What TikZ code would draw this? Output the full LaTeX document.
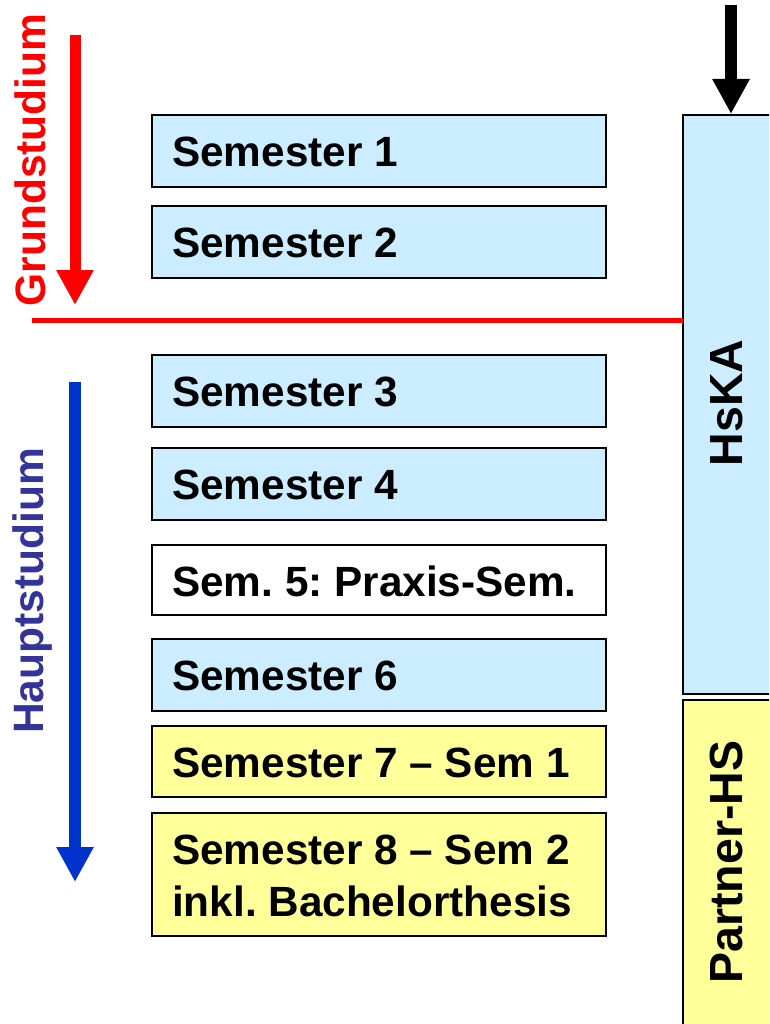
\documentclass[tikz,border=0pt]{standalone}
\usepackage{fontspec}
\setmainfont{Liberation Sans}
\usetikzlibrary{arrows.meta,positioning}
\definecolor{lblue}{HTML}{CCECFF}
\definecolor{lyellow}{HTML}{FFFF99}
\definecolor{hblue}{HTML}{333399}
\definecolor{ablue}{HTML}{0033CC}
\frenchspacing
\begin{document}
\begin{tikzpicture}[x=1pt,y=-1pt,
  semtext/.style={font=\fontsize{42.3}{52}\selectfont\bfseries,anchor=west,align=left,inner sep=0pt},
  bigarrow/.style={line width=12pt,-{Triangle[width=35pt,length=35pt]}},
  sidetext/.style={font=\fontsize{42.5}{48}\selectfont\bfseries,rotate=90,inner sep=0pt},
  sidetextbig/.style={font=\fontsize{46.5}{52}\selectfont\bfseries,rotate=90,inner sep=0pt}]
\useasboundingbox (0,0) rectangle (769,1024);
\clip (0,0) rectangle (769,1024);
% semester boxes
\foreach \n/\ya/\yb/\col in {1/115/187/lblue,2/206/278/lblue,3/355/427/lblue,4/448/520/lblue,5/545/615/white,6/639/711/lblue,7/726/797/lyellow,8/813/936/lyellow}{
  \path[draw=black,line width=2pt,fill=\col] (152,\ya) rectangle (606,\yb) coordinate (b\n);
  \coordinate (t\n) at (172,{(\ya+\yb)/2+1});
}
\node[semtext] (s1) at (t1) {Semester 1};
\node[semtext] (s2) at (t2) {Semester 2};
\node[semtext] (s3) at (t3) {Semester 3};
\node[semtext] (s4) at (t4) {Semester 4};
\node[semtext] (s5) at (t5) {Sem. 5: Praxis-Sem.};
\node[semtext] (s6) at (t6) {Semester 6};
\node[semtext] (s7) at (t7) {Semester 7 – Sem 1};
\node[semtext] (s8) at (t8) {Semester 8 – Sem 2\\inkl. Bachelorthesis};
% right boxes
\path[draw=black,line width=2pt,fill=lblue] (683,115) rectangle (800,694);
\path[draw=black,line width=2pt,fill=lyellow] (683,700) rectangle (800,1040);
\node[sidetextbig] (hska) at (727,403) {HsKA};
\node[sidetextbig] (phs) at (726,862) {Partner-HS};
% black arrow
\coordinate (ka) at (731,5);
\coordinate (kb) at (731,114);
\draw[bigarrow,black] (ka) -- (kb);
% red
\coordinate (ra) at (75,35);
\coordinate (rb) at (75,305);
\draw[bigarrow,red,line width=11pt] (ra) -- (rb);
\coordinate (la) at (32,320);
\coordinate (lb) at (683,320);
\draw[red,line width=5pt] (la) -- (lb);
\node[sidetext,red] (grund) at (30,160) {Grundstudium};
% blue
\coordinate (ba) at (75,382);
\coordinate (bb) at (75,882);
\draw[bigarrow,ablue] (ba) -- (bb);
\node[sidetext,hblue] (haupt) at (33,591) {Hauptstudium};
\end{tikzpicture}
\end{document}
